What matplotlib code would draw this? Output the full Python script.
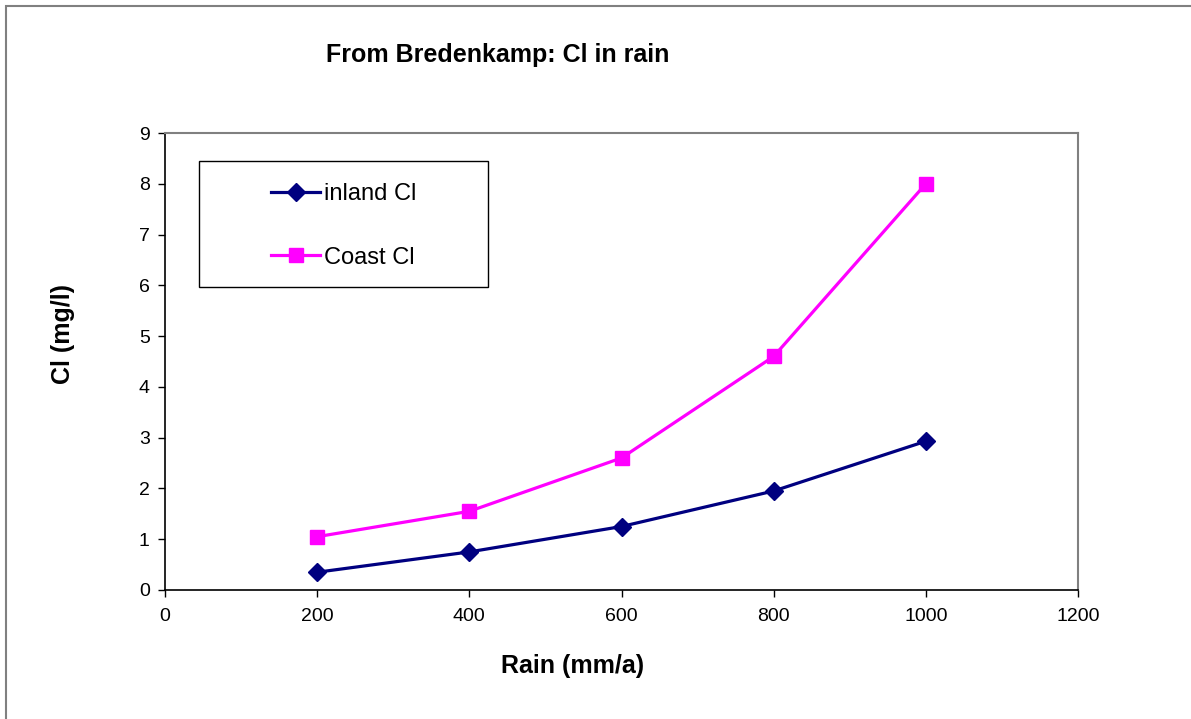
import matplotlib
matplotlib.use("Agg")
import matplotlib.pyplot as plt
from matplotlib.patches import Rectangle

plt.rcParams["font.family"] = ["Liberation Sans", "DejaVu Sans"]

# Chloride in rain vs annual rainfall (Bredenkamp)
rain = [200, 400, 600, 800, 1000]
inland_cl = [0.35, 0.75, 1.25, 1.95, 2.93]
coast_cl = [1.05, 1.55, 2.6, 4.6, 8.0]

x_ticks = [0, 200, 400, 600, 800, 1000, 1200]
y_ticks = list(range(0, 10))

W, H = 1191, 719
fig = plt.figure(figsize=(W / 100, H / 100), dpi=100)

# outer chart-area frame
fig.patches.append(Rectangle((6 / W, -0.1), 1.2, 1 - 6 / H + 0.1, transform=fig.transFigure,
                             fill=False, edgecolor="#808080", lw=1.5))

ax = fig.add_axes([165 / W, 1 - 590 / H, (1078 - 165) / W, (590 - 133) / H])
ax.plot(rain, inland_cl, color="#000080", lw=2.3, marker="D", ms=9, label="inland Cl")
ax.plot(rain, coast_cl, color="#FF00FF", lw=2.3, marker="s", ms=10, label="Coast Cl")

ax.set_xlim(0, 1200)
ax.set_ylim(0, 9)
ax.set_xticks(x_ticks)
ax.set_yticks(y_ticks)
ax.tick_params(axis="both", labelsize=14, direction="out", length=5, width=1, pad=6)
ax.tick_params(axis="x", pad=8)

for side in ("left", "bottom"):
    ax.spines[side].set_color("black")
    ax.spines[side].set_linewidth(1.2)
for side in ("top", "right"):
    ax.spines[side].set_color("#808080")
    ax.spines[side].set_linewidth(1.5)

# axis titles sit where the spreadsheet put them, not centred on the axes
fig.text(573 / W, 1 - 666 / H, "Rain (mm/a)", fontsize=18, fontweight="bold",
         ha="center", va="center")
fig.text(63 / W, 1 - 334 / H, "Cl (mg/l)", fontsize=18, fontweight="bold",
         ha="center", va="center", rotation=90)
fig.text(498 / W, 1 - 55 / H, "From Bredenkamp: Cl in rain", fontsize=18, fontweight="bold",
         ha="center", va="center")

# legend box drawn separately so the entries can float in the middle of it
lx0, lx1, ly0, ly1 = 199, 488, 161, 287
box = Rectangle(((lx0 - 165) / 913, (590 - ly1) / 457), (lx1 - lx0) / 913, (ly1 - ly0) / 457,
                transform=ax.transAxes, fill=True, facecolor="white", edgecolor="black",
                lw=1, zorder=4)
ax.add_patch(box)
leg = ax.legend(loc="center", bbox_to_anchor=(((lx0 + lx1) / 2 - 165) / 913,
                                              (590 - (ly0 + ly1) / 2 - 2) / 457),
                fontsize=17, frameon=False, handlelength=2.1, handletextpad=0.15,
                labelspacing=1.75, borderpad=0, borderaxespad=0)
leg.set_zorder(5)

fig.savefig("out.png", dpi=100)
